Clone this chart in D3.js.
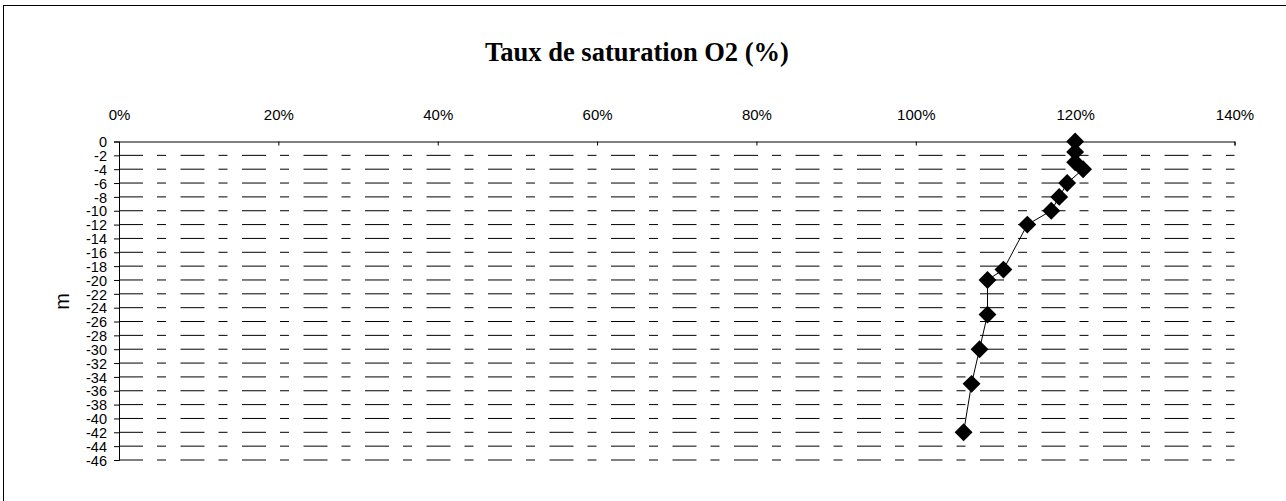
<!DOCTYPE html>
<html>
<head>
<meta charset="utf-8">
<script src="https://cdn.jsdelivr.net/npm/d3@7"></script>
<style>
  body { margin: 0; background: #fff; }
  svg { display: block; }
</style>
</head>
<body>
<svg id="chart"></svg>
<script>
// saturation O2 (%) by depth (m)
var saturation = [120, 120, 120, 121, 119, 118, 117, 114, 111, 109, 109, 108, 107, 106];
var depth = [0, -1.5, -3, -4, -6, -8, -10, -12, -18.5, -20, -25, -30, -35, -42];
var xTicks = [0, 20, 40, 60, 80, 100, 120, 140];
var yTicks = d3.range(0, -47, -2);

var width = 1286,
    height = 501;

var svg = d3.select("#chart")
    .attr("width", width)
    .attr("height", height);

// outer frame (cut on the right and bottom)
svg.append("rect")
    .attr("x", 3.5).attr("y", 5.5)
    .attr("width", 1300).attr("height", 520)
    .attr("fill", "none")
    .attr("stroke", "#000")
    .attr("stroke-width", 1);

svg.append("text")
    .attr("x", 637).attr("y", 61)
    .attr("text-anchor", "middle")
    .style("font-family", "'Liberation Serif', 'Times New Roman', serif")
    .style("font-weight", "bold")
    .style("font-size", "26.5px")
    .text("Taux de saturation O2 (%)");

var x = d3.scaleLinear().domain([0, 140]).range([119, 1234.5]);
var y = d3.scaleLinear().domain([0, -46]).range([141.5, 460]);

// dashed grid
svg.append("g").selectAll("line")
    .data(yTicks.filter(function(d) { return d != 0; }))
    .enter().append("line")
    .attr("x1", x(0)).attr("x2", x(140))
    .attr("y1", function(d) { return y(d); })
    .attr("y2", function(d) { return y(d); })
    .attr("stroke", "#000")
    .attr("stroke-width", 1)
    .attr("stroke-dasharray", "24,14,9,14.5");

var font = "'Liberation Sans', Arial, sans-serif";

var xAxis = svg.append("g")
    .attr("transform", "translate(0," + y(0) + ")")
    .call(d3.axisTop(x).tickValues(xTicks).tickSize(-4).tickPadding(22)
        .tickFormat(function(d) { return d + "%"; }));

var yAxis = svg.append("g")
    .attr("transform", "translate(" + x(0) + ",0)")
    .call(d3.axisLeft(y).tickValues(yTicks).tickSize(5).tickPadding(7)
        .tickFormat(function(d) { return d; }));

[xAxis, yAxis].forEach(function(a) {
    a.select(".domain").attr("stroke", "#000").attr("stroke-width", 1);
    a.selectAll(".tick line").attr("stroke", "#000");
    a.selectAll(".tick text")
        .attr("fill", "#000")
        .style("font-family", font)
        .style("font-size", "15px");
});
yAxis.selectAll(".tick text").attr("dy", "0.36em").style("font-size", "14.5px");

svg.append("text")
    .attr("transform", "translate(69,301.5) rotate(-90)")
    .attr("text-anchor", "middle")
    .style("font-family", font)
    .style("font-size", "20px")
    .text("m");

var points = saturation.map(function(s, i) { return { s: s, d: depth[i] }; });

svg.append("path")
    .datum(points)
    .attr("fill", "none")
    .attr("stroke", "#000")
    .attr("stroke-width", 1)
    .attr("d", d3.line()
        .x(function(d) { return x(d.s); })
        .y(function(d) { return y(d.d); }));

svg.append("g").selectAll("path")
    .data(points)
    .enter().append("path")
    .attr("d", d3.symbol(d3.symbolSquare, 160))
    .attr("transform", function(d) {
        return "translate(" + x(d.s) + "," + y(d.d) + ") rotate(45)";
    })
    .attr("fill", "#000");
</script>
</body>
</html>
